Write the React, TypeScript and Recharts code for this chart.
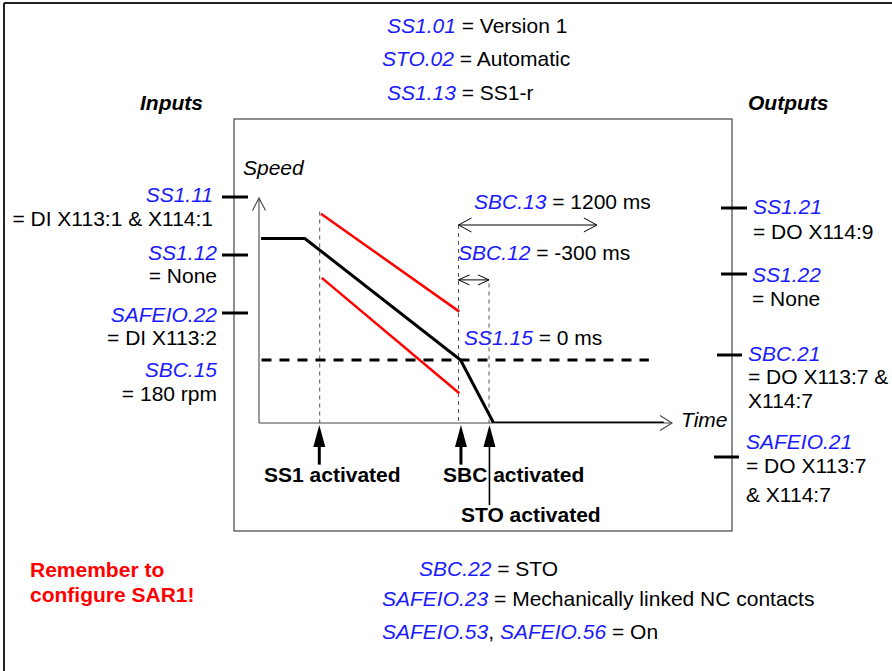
import React from 'react';
import { LineChart, Line, XAxis, YAxis, ReferenceLine } from 'recharts';

// ---- data (time and speed in arbitrary diagram units, 0..100) ----
const speedProfile = [
  { t: 0.5, v: 82 },
  { t: 11.1, v: 82 },
  { t: 48.8, v: 28 },
  { t: 56.8, v: 0 },
  { t: 98, v: 0 },
];
const upperLimit = [
  { t: 15.0, v: 93 },
  { t: 48.5, v: 49.5 },
];
const lowerLimit = [
  { t: 15.2, v: 64.5 },
  { t: 48.5, v: 13.2 },
];
const thresholdSpeed = 28;
const thresholdSpan = [0.6, 94.4];
const eventGuides = [
  { t: 14.7, top: 94 },
  { t: 48.3, top: 88 },
  { t: 55.7, top: 62 },
];
const eventArrows = [
  { t: 14.6, tail: -18.5, thin: false },
  { t: 48.9, tail: -18.5, thin: false },
  { t: 55.8, tail: -36.5, thin: true },
];
const sbc13Span = { from: 48.3, to: 81.8, v: 88 };
const sbc12Span = { from: 48.3, to: 55.7, v: 63.6 };

const headerParams = [
  ['SS1.01', ' = Version 1'],
  ['STO.02', ' = Automatic'],
  ['SS1.13', ' = SS1-r'],
];
const footerParams = [
  ['SBC.22', ' = STO'],
  ['SAFEIO.23', ' = Mechanically linked NC contacts'],
  ['SAFEIO.53', ', ', 'SAFEIO.56', ' = On'],
];
const inputs = [
  { name: 'SS1.11', value: '= DI X113:1 & X114:1' },
  { name: 'SS1.12', value: '= None' },
  { name: 'SAFEIO.22', value: '= DI X113:2' },
  { name: 'SBC.15', value: '= 180 rpm' },
];
const outputs = [
  { name: 'SS1.21', lines: ['= DO X114:9'] },
  { name: 'SS1.22', lines: ['= None'] },
  { name: 'SBC.21', lines: ['= DO X113:7 &', 'X114:7'] },
  { name: 'SAFEIO.21', lines: ['= DO X113:7', '& X114:7'] },
];
const eventLabels = ['SS1 activated', 'SBC activated', 'STO activated'];
const noteLines = ['Remember to', 'configure SAR1!'];

// ---- styles ----
const FONT = '"Liberation Sans", Arial, Helvetica, sans-serif';
const BLUE = '#1a1aff';
const FS = 21;

const Param = ({ x, y, parts, anchor = 'start' }: any) => (
  <text x={x} y={y} textAnchor={anchor} fontFamily={FONT} fontSize={FS}>
    {parts.map((s: string, i: number) => {
      const isParam = i % 2 === 0;
      return (
        <tspan key={i} fill={isParam ? BLUE : '#000'} fontStyle={isParam ? 'italic' : 'normal'} style={{ whiteSpace: 'pre' }}>
          {s}
        </tspan>
      );
    })}
  </text>
);

const Plain = ({ x, y, children, anchor = 'start', bold = false, italic = false, fill = '#000' }: any) => (
  <text
    x={x}
    y={y}
    textAnchor={anchor}
    fontFamily={FONT}
    fontSize={FS}
    fontWeight={bold ? 'bold' : 'normal'}
    fontStyle={italic ? 'italic' : 'normal'}
    fill={fill}
  >
    {children}
  </text>
);

const axisArrowShape = (dir: 'up' | 'right') => (p: any) => {
  const { x1, y1, x2, y2 } = p;
  const head =
    dir === 'up'
      ? `M${x2 - 6.5},${y2 + 12.5} L${x2},${y2} L${x2 + 6.5},${y2 + 12.5}`
      : `M${x2 - 12},${y2 - 7.5} L${x2},${y2} L${x2 - 12},${y2 + 7.5}`;
  return (
    <g>
      <line x1={x1} y1={y1} x2={x2} y2={y2} stroke="#808080" strokeWidth={1.6} />
      <path d={head} fill="none" stroke="#444" strokeWidth={1.1} />
    </g>
  );
};

const doubleArrowShape = (size: number, half: number) => (p: any) => {
  const { x1, y1, x2, y2 } = p;
  return (
    <g>
      <line x1={x1} y1={y1} x2={x2} y2={y2} stroke="#000" strokeWidth={1} />
      <path d={`M${x1 + size},${y1 - half} L${x1},${y1} L${x1 + size},${y1 + half}`} fill="none" stroke="#000" strokeWidth={1} />
      <path d={`M${x2 - size},${y2 - half} L${x2},${y2} L${x2 - size},${y2 + half}`} fill="none" stroke="#000" strokeWidth={1} />
    </g>
  );
};

const eventArrowShape = (thin: boolean) => (p: any) => {
  const { x1, y1, x2, y2 } = p;
  return (
    <g>
      <line x1={x1} y1={y1} x2={x2} y2={y2 + 18} stroke="#000" strokeWidth={thin ? 1.6 : 3} />
      <path d={`M${x2},${y2} L${x2 - 6},${y2 + 22} L${x2 + 6},${y2 + 22} Z`} fill="#000" />
    </g>
  );
};

const guideShape = (p: any) => (
  <line x1={p.x1} y1={p.y1} x2={p.x2} y2={p.y2} stroke="#555" strokeWidth={1} strokeDasharray="4 4" />
);

export default function App() {
  const inNameY = [202, 260, 322, 377];
  const inValY = [226, 283, 345, 401];
  const inRight = [213, 217, 217, 217];
  const inTickY = [197, 255, 313];
  const outX = [753, 752, 748, 746];
  const outNameY = [214, 282, 361, 449];
  const outLineY = [[239], [306], [384, 408], [473, 502]];
  const outTick = [
    [721, 747, 208],
    [721, 747, 274],
    [717, 742, 355],
    [714, 739, 457],
  ];
  const headerX = [387, 382, 387];
  const headerY = [33, 66, 100];
  const footerX = [419, 382, 382];
  const footerY = [576, 606, 639];
  const eventLabelPos = [
    [264, 482],
    [443, 482],
    [461, 522],
  ];

  return (
    <div style={{ position: 'absolute', left: 0, top: 0, width: 892, height: 671, background: '#fff' }}>
      <LineChart width={892} height={671} margin={{ top: 198, right: 220, bottom: 248, left: 259 }}>
        <XAxis type="number" dataKey="t" domain={[0, 100]} allowDataOverflow hide />
        <YAxis type="number" dataKey="v" domain={[0, 100]} allowDataOverflow hide />

        {/* frame */}
        <line x1={4} y1={3} x2={892} y2={3} stroke="#222" strokeWidth={2} />
        <line x1={4} y1={3} x2={4} y2={671} stroke="#222" strokeWidth={2} />
        <rect x={234} y={119} width={498} height={412} fill="none" stroke="#444" strokeWidth={1.2} />

        {/* axes */}
        <ReferenceLine segment={[{ x: 0, y: 0 }, { x: 0, y: 100 }]} ifOverflow="visible" shape={axisArrowShape('up')} />
        <ReferenceLine segment={[{ x: 0, y: 0 }, { x: 100, y: 0 }]} ifOverflow="visible" shape={axisArrowShape('right')} />

        {/* event guides */}
        {eventGuides.map((g, i) => (
          <ReferenceLine key={'g' + i} segment={[{ x: g.t, y: g.top }, { x: g.t, y: 0 }]} ifOverflow="visible" shape={guideShape} />
        ))}

        {/* threshold speed */}
        <ReferenceLine
          segment={[{ x: thresholdSpan[0], y: thresholdSpeed }, { x: thresholdSpan[1], y: thresholdSpeed }]}
          ifOverflow="visible"
          stroke="#000"
          strokeWidth={3}
          strokeDasharray="10 8"
        />

        <Line data={upperLimit} dataKey="v" type="linear" stroke="#ff0000" strokeWidth={2.5} dot={false} isAnimationActive={false} />
        <Line data={lowerLimit} dataKey="v" type="linear" stroke="#ff0000" strokeWidth={2.5} dot={false} isAnimationActive={false} />
        <Line data={speedProfile} dataKey="v" type="linear" stroke="#000" strokeWidth={3} dot={false} isAnimationActive={false} />

        {/* time spans */}
        <ReferenceLine
          segment={[{ x: sbc13Span.from, y: sbc13Span.v }, { x: sbc13Span.to, y: sbc13Span.v }]}
          ifOverflow="visible"
          shape={doubleArrowShape(13, 7)}
        />
        <ReferenceLine
          segment={[{ x: sbc12Span.from, y: sbc12Span.v }, { x: sbc12Span.to, y: sbc12Span.v }]}
          ifOverflow="visible"
          shape={doubleArrowShape(11, 5)}
        />

        {/* event arrows */}
        {eventArrows.map((a, i) => (
          <ReferenceLine key={'a' + i} segment={[{ x: a.t, y: a.tail }, { x: a.t, y: -0.9 }]} ifOverflow="visible" shape={eventArrowShape(a.thin)} />
        ))}

        {/* texts */}
        {headerParams.map((p, i) => (
          <Param key={'h' + i} x={headerX[i]} y={headerY[i]} parts={p} />
        ))}
        {footerParams.map((p, i) => (
          <Param key={'f' + i} x={footerX[i]} y={footerY[i]} parts={p} />
        ))}
        <Plain x={140} y={110} bold italic>Inputs</Plain>
        <Plain x={748} y={110} bold italic>Outputs</Plain>
        <Plain x={243} y={175} italic>Speed</Plain>
        <Plain x={681} y={427} italic>Time</Plain>

        <Param x={474} y={209} parts={['SBC.13', ' = 1200 ms']} />
        <Param x={458} y={260} parts={['SBC.12', ' = -300 ms']} />
        <Param x={464} y={345} parts={['SS1.15', ' = 0 ms']} />

        {inputs.map((inp, i) => (
          <g key={'in' + i}>
            <Param x={inRight[i]} y={inNameY[i]} parts={[inp.name]} anchor="end" />
            <Plain x={inRight[i]} y={inValY[i]} anchor="end">{inp.value}</Plain>
          </g>
        ))}
        {inTickY.map((y, i) => (
          <line key={'it' + i} x1={222} y1={y} x2={248} y2={y} stroke="#000" strokeWidth={3} />
        ))}

        {outputs.map((o, i) => (
          <g key={'out' + i}>
            <Param x={outX[i]} y={outNameY[i]} parts={[o.name]} />
            {o.lines.map((l, j) => (
              <Plain key={j} x={outX[i]} y={outLineY[i][j]}>{l}</Plain>
            ))}
            <line x1={outTick[i][0]} y1={outTick[i][2]} x2={outTick[i][1]} y2={outTick[i][2]} stroke="#000" strokeWidth={3} />
          </g>
        ))}

        {eventLabels.map((l, i) => (
          <Plain key={'e' + i} x={eventLabelPos[i][0]} y={eventLabelPos[i][1]} bold>{l}</Plain>
        ))}

        <Plain x={30} y={577} bold fill="#ff0000">{noteLines[0]}</Plain>
        <Plain x={30} y={602} bold fill="#ff0000">{noteLines[1]}</Plain>
      </LineChart>
    </div>
  );
}
